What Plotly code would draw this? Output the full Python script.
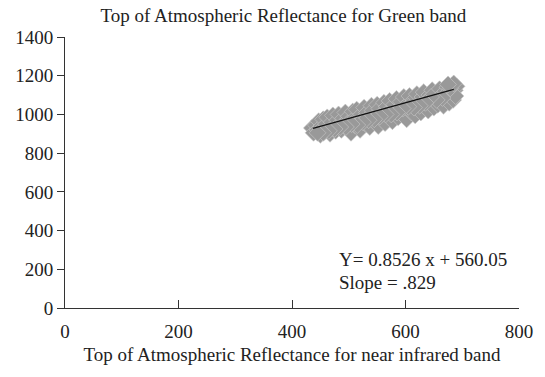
import plotly.graph_objects as go

# Scatter data
nir = [435, 438, 442, 445, 447, 450, 452, 455, 457, 460, 462, 464, 467, 470, 472, 474, 477, 480, 482, 484,
       487, 490, 492, 494, 497, 500, 502, 504, 507, 510, 512, 514, 517, 520, 522, 524, 527, 530, 532, 534,
       537, 540, 542, 544, 547, 550, 552, 554, 557, 560, 562, 564, 567, 570, 572, 574, 577, 580, 582, 584,
       587, 590, 592, 594, 597, 600, 602, 604, 607, 610, 612, 614, 617, 620, 622, 624, 627, 630, 632, 634,
       637, 640, 642, 644, 647, 650, 652, 654, 657, 660, 662, 664, 667, 670, 672, 674, 677, 680, 682, 684,
       687, 690, 688, 679, 685, 675, 665, 655, 645, 635, 625, 615, 605, 595, 585, 575, 565, 555, 545, 535,
       525, 515, 505, 495, 485, 475, 465, 455, 445]
green = [930, 905, 945, 920, 965, 895, 940, 975, 910, 950, 985, 925, 900, 960, 995, 935, 915, 970, 1000, 945,
         920, 980, 955, 1010, 930, 990, 965, 905, 1015, 945, 985, 1025, 960, 920, 1000, 975, 1035, 950, 1010, 985,
         935, 1045, 1020, 965, 995, 1050, 940, 1030, 980, 1010, 1060, 955, 1040, 995, 1070, 1020, 965, 1050, 1005, 1080,
         985, 1035, 1065, 1000, 1090, 1025, 975, 1055, 1095, 1010, 1045, 1075, 995, 1105, 1030, 1060, 1010, 1090, 1115, 1040,
         1070, 1020, 1100, 1055, 1125, 1035, 1085, 1110, 1050, 1130, 1070, 1095, 1045, 1120, 1080, 1140, 1060, 1105, 1150, 1075,
         1125, 1145, 1095, 1135, 1160, 1155, 1085, 1075, 1090, 1060, 1045, 1035, 1040, 1030, 1010, 1000, 1000, 990, 975, 970,
         960, 945, 950, 935, 935, 925, 915, 905, 905]

# Regression shown on the chart
reg_slope = [0.8526]
reg_intercept = [560.05]
eq_text = ["Y= 0.8526 x + 560.05", "Slope = .829"]

x_ticks = [0, 200, 400, 600, 800]
y_ticks = [0, 200, 400, 600, 800, 1000, 1200, 1400]

fnt = "Liberation Serif, Times New Roman, serif"
fs = 19

fig = go.Figure()
fig.add_trace(go.Scatter(
    x=nir, y=green, mode="markers",
    marker=dict(symbol="diamond", size=13, color="#999999",
                line=dict(color="#c8c8c8", width=0.6)),
    showlegend=False, hoverinfo="skip"))

x0, x1 = min(nir) + 2, max(nir) - 5
fig.add_trace(go.Scatter(
    x=[x0, x1],
    y=[reg_slope[0] * x0 + reg_intercept[0] - 5, reg_slope[0] * x1 + reg_intercept[0] - 15],
    mode="lines", line=dict(color="#111111", width=1.3),
    showlegend=False, hoverinfo="skip"))

fig.add_annotation(x=480, y=250, xref="x", yref="y", text=eq_text[0], showarrow=False,
                   xanchor="left", yanchor="middle", font=dict(family=fnt, size=fs, color="#222"))
fig.add_annotation(x=480, y=131, xref="x", yref="y", text=eq_text[1], showarrow=False,
                   xanchor="left", yanchor="middle", font=dict(family=fnt, size=fs, color="#222"))

fig.update_layout(
    width=545, height=377,
    margin=dict(l=65, r=20, t=37, b=69),
    paper_bgcolor="white", plot_bgcolor="white",
    font=dict(family=fnt, size=fs, color="#222"),
    title=dict(text="Top of Atmospheric Reflectance for Green band", x=0.52, xanchor="center",
               y=0.96, yanchor="middle", font=dict(family=fnt, size=fs, color="#222")),
)
fig.update_xaxes(
    range=[0, 800], tickvals=x_ticks, ticktext=[str(v) for v in x_ticks],
    showgrid=False, zeroline=False, showline=True, linecolor="#333", linewidth=1,
    ticks="inside", ticklen=8, tickcolor="#333", ticklabelstandoff=6,
    title=dict(text="Top of Atmospheric Reflectance for near infrared band", standoff=6,
               font=dict(family=fnt, size=fs)),
    tickfont=dict(family=fnt, size=fs))
fig.update_yaxes(
    range=[0, 1400], tickvals=y_ticks, ticktext=[str(v) for v in y_ticks],
    showgrid=False, zeroline=False, showline=True, linecolor="#333", linewidth=1,
    ticks="outside", ticklen=7, tickcolor="#333",
    tickfont=dict(family=fnt, size=fs))

fig.write_html("out.html")
